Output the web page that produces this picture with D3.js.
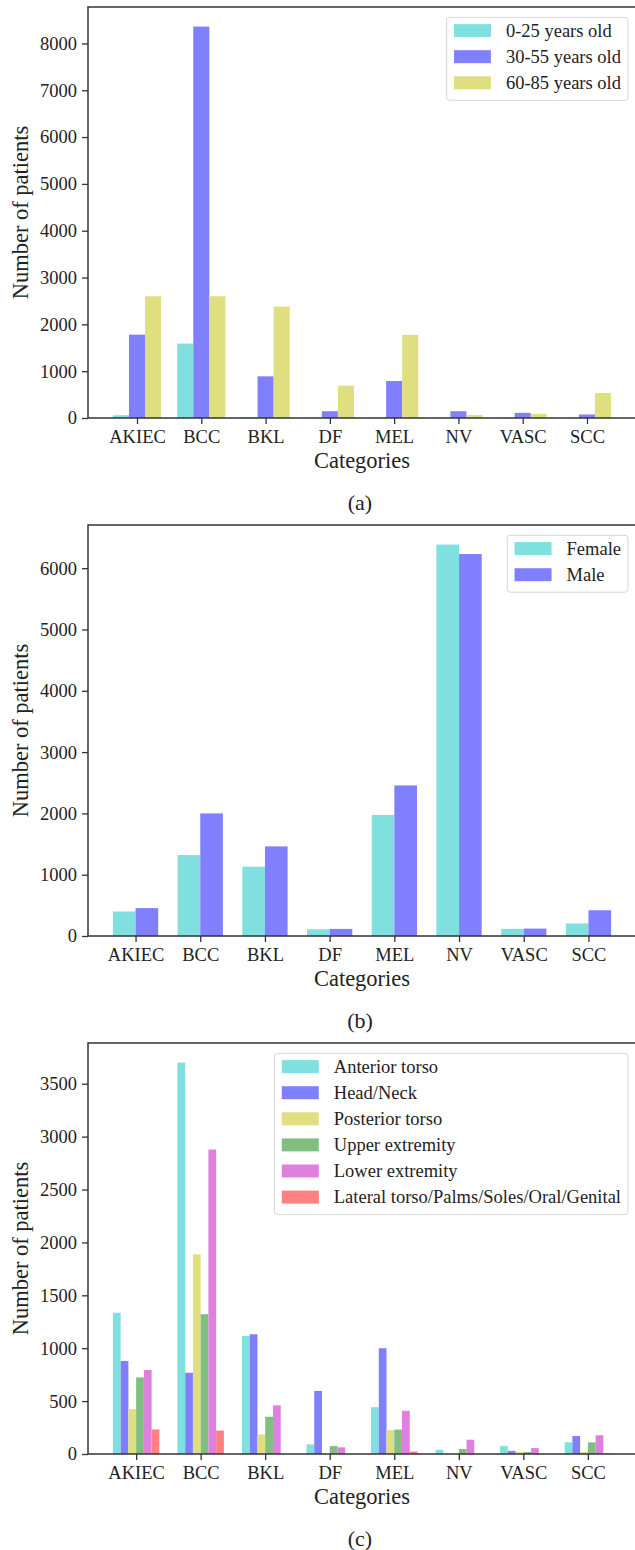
<!DOCTYPE html>
<html>
<head>
<meta charset="utf-8">
<script src="https://cdn.jsdelivr.net/npm/d3@7"></script>
<style>
  body { margin: 0; background: #fff; }
  text { font-family: "Liberation Serif", "Times New Roman", serif; fill: #222; }
</style>
</head>
<body>
<svg id="chart" width="635" height="1550"></svg>
<script>
'use strict';

var categories = ['AKIEC', 'BCC', 'BKL', 'DF', 'MEL', 'NV', 'VASC', 'SCC'];

// (a) age groups
var ageLabels = ['0-25 years old', '30-55 years old', '60-85 years old'];
var age0to25 = [60, 1590, 15, 5, 5, 3, 10, 3];
var age30to55 = [1780, 8360, 890, 145, 790, 145, 110, 75];
var age60to85 = [2600, 2600, 2380, 690, 1775, 65, 90, 535];
var ageTicks = [0, 1000, 2000, 3000, 4000, 5000, 6000, 7000, 8000];

// (b) sex
var sexLabels = ['Female', 'Male'];
var female = [400, 1320, 1130, 110, 1975, 6385, 116, 205];
var male = [455, 2000, 1462, 116, 2456, 6230, 121, 420];
var sexTicks = [0, 1000, 2000, 3000, 4000, 5000, 6000];

// (c) body site
var siteLabels = ['Anterior torso', 'Head/Neck', 'Posterior torso', 'Upper extremity',
  'Lower extremity', 'Lateral torso/Palms/Soles/Oral/Genital'];
var anteriorTorso = [1335, 3700, 1116, 90, 442, 40, 75, 110];
var headNeck = [880, 768, 1132, 596, 1000, 0, 30, 170];
var posteriorTorso = [425, 1888, 185, 0, 225, 0, 18, 18];
var upperExtremity = [724, 1322, 352, 76, 231, 47, 19, 110];
var lowerExtremity = [794, 2878, 460, 63, 408, 135, 56, 177];
var lateralOther = [232, 222, 0, 0, 24, 0, 0, 6];
var siteTicks = [0, 500, 1000, 1500, 2000, 2500, 3000, 3500];

var panelLetters = ['(a)', '(b)', '(c)'];

var cyan = '#80dfdf', blue = '#8080ff', yellow = '#dfdf80',
  green = '#80bf80', magenta = '#df80df', red = '#ff8080';

var svg = d3.select('#chart');

var panelHeight = 518,
  plotLeft = 88,
  plotRight = 636,
  plotTop = 7,
  plotBottom = 418;

function drawPanel (index, series, labels, colors, barWidth, ticks) {
  var off = index * panelHeight;
  var g = svg.append('g').attr('transform', 'translate(0,' + off + ')');
  var n = series.length;

  var lo = -n / 2 * barWidth,
    hi = categories.length - 1 + n / 2 * barWidth,
    pad = 0.05 * (hi - lo);
  var x = d3.scaleLinear().domain([lo - pad, hi + pad]).range([plotLeft, plotRight]);

  var maxVal = d3.max(series, s => d3.max(s));
  var y = d3.scaleLinear().domain([0, maxVal * 1.05]).range([plotBottom, plotTop]);

  // bars
  series.forEach(function (values, j) {
    g.append('g').selectAll('rect')
      .data(values)
      .enter().append('rect')
      .attr('x', (v, i) => x(i + (j - n / 2) * barWidth))
      .attr('width', x(barWidth) - x(0))
      .attr('y', v => y(v))
      .attr('height', v => y(0) - y(v))
      .attr('fill', colors[j]);
  });

  // axes
  var yAxis = d3.axisLeft(y).tickValues(ticks).tickSize(6).tickPadding(5).tickFormat(d3.format('d'));
  var gy = g.append('g').attr('transform', 'translate(' + plotLeft + ',0)').call(yAxis);
  var xAxis = d3.axisBottom(x).tickValues(d3.range(categories.length)).tickSize(6).tickPadding(6)
    .tickFormat(i => categories[i]);
  var gx = g.append('g').attr('transform', 'translate(0,' + plotBottom + ')').call(xAxis);
  [gx, gy].forEach(function (ax) {
    ax.select('.domain').remove();
    ax.selectAll('line').attr('stroke', '#333').attr('stroke-width', 1.3);
    ax.selectAll('text').attr('font-size', '18.5px').attr('fill', '#222')
      .style('font-family', '"Liberation Serif", serif');
  });
  gx.selectAll('text').attr('dy', null).attr('y', 25);

  // frame
  g.append('rect')
    .attr('x', plotLeft).attr('y', plotTop)
    .attr('width', plotRight - plotLeft).attr('height', plotBottom - plotTop)
    .attr('fill', 'none').attr('stroke', '#333').attr('stroke-width', 1.5);

  // axis titles
  g.append('text')
    .attr('transform', 'translate(28,' + ((plotTop + plotBottom) / 2) + ') rotate(-90)')
    .attr('text-anchor', 'middle')
    .attr('font-size', '22.5px')
    .text('Number of patients');
  g.append('text')
    .attr('x', (plotLeft + plotRight) / 2).attr('y', 468)
    .attr('text-anchor', 'middle')
    .attr('font-size', '22.5px')
    .text('Categories');
  g.append('text')
    .attr('x', (plotLeft + plotRight) / 2 - 2).attr('y', 510)
    .attr('text-anchor', 'middle')
    .attr('font-size', '22px')
    .text(panelLetters[index]);

  // legend
  var rowH = 26.1, legTop = plotTop + 10.3, legRight = 628;
  var leg = g.append('g');
  var box = leg.append('rect')
    .attr('rx', 3).attr('ry', 3)
    .attr('fill', 'rgba(255,255,255,0.85)')
    .attr('stroke', '#d6d6d6').attr('stroke-width', 1);
  var texts = leg.selectAll('text.leg')
    .data(labels)
    .enter().append('text')
    .attr('class', 'leg')
    .attr('font-size', '18.5px')
    .text(d => d);
  var textW = d3.max(texts.nodes(), t => t.getComputedTextLength());
  var legW = 7.3 + 37 + 15 + textW + 7;
  var legLeft = legRight - legW;
  box.attr('x', legLeft).attr('y', legTop)
    .attr('width', legW).attr('height', 13.3 + rowH * (labels.length - 1) + 17.5);
  texts.attr('x', legLeft + 7.3 + 37 + 15)
    .attr('y', (d, i) => legTop + 13.3 + i * rowH + 6.2);
  leg.selectAll('rect.patch')
    .data(labels)
    .enter().append('rect')
    .attr('class', 'patch')
    .attr('x', legLeft + 7.3)
    .attr('y', (d, i) => legTop + 13.3 + i * rowH - 6.5)
    .attr('width', 37).attr('height', 13)
    .attr('fill', (d, i) => colors[i]);
}

drawPanel(0, [age0to25, age30to55, age60to85], ageLabels, [cyan, blue, yellow], 0.25, ageTicks);
drawPanel(1, [female, male], sexLabels, [cyan, blue], 0.35, sexTicks);
drawPanel(2, [anteriorTorso, headNeck, posteriorTorso, upperExtremity, lowerExtremity, lateralOther],
  siteLabels, [cyan, blue, yellow, green, magenta, red], 0.12, siteTicks);
</script>
</body>
</html>
